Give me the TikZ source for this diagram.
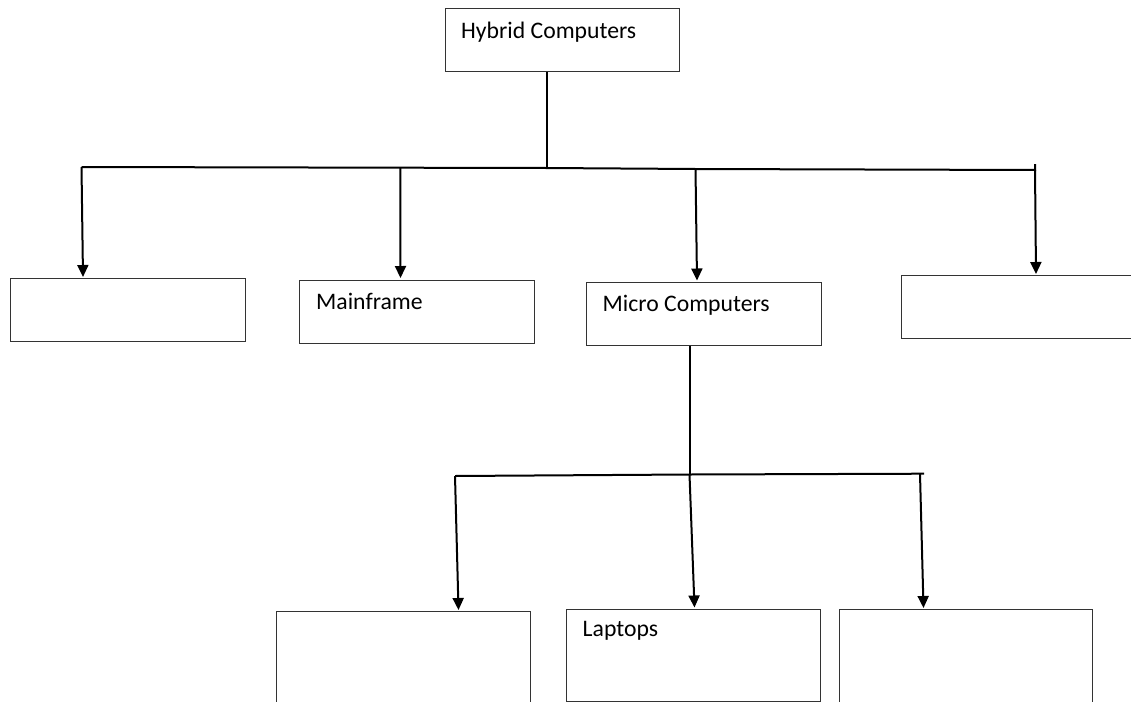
\documentclass[tikz,border=0pt]{standalone}
\usepackage{fontspec}
\setmainfont{Carlito}
\usetikzlibrary{arrows.meta,calc}
\begin{document}
\begin{tikzpicture}[x=1pt,y=-1pt,
  box/.style={draw=black!80,line width=1.2pt,rectangle,inner sep=0pt,anchor=north west},
  lbl/.style={anchor=base west,inner sep=0pt,font=\fontsize{23.7}{28}\selectfont},
  wire/.style={draw=black,line width=2pt},
  arr/.style={draw=black,line width=2pt,-{Triangle[length=12pt,width=11pt]}}]
\useasboundingbox (0,0) rectangle (1131,701);
\fill[white] (0,0) rectangle (1131,701);
% boxes
\node[box,minimum width=234pt,minimum height=63pt] (hyb) at (445,8) {};
\node[lbl] (hybt) at (461,38.5) {Hybrid Computers};
\node[box,minimum width=235pt,minimum height=63pt] (b1) at (10,278) {};
\node[box,minimum width=235pt,minimum height=63pt] (mf) at (299,279.5) {};
\node[lbl] (mft) at (316,309.5) {Mainframe};
\node[box,minimum width=235pt,minimum height=63pt] (mc) at (585.5,281.5) {};
\node[lbl] (mct) at (602.5,311.5) {Micro Computers};
\node[box,minimum width=240pt,minimum height=63pt] (b4) at (901,275) {};
\node[box,minimum width=254pt,minimum height=100pt] (b5) at (275.5,611) {};
\node[box,minimum width=254pt,minimum height=92pt] (lap) at (566,608.5) {};
\node[lbl] (lapt) at (582.5,636.5) {Laptops};
\node[box,minimum width=253pt,minimum height=100pt] (b7) at (838.5,609) {};
% top level tree
\coordinate (j0) at (546.5,168);
\coordinate (l1) at (81.5,167);
\coordinate (l2) at (400.3,167.7);
\coordinate (l3) at (695.5,169);
\coordinate (l4) at (1035,170);
\coordinate (l4t) at (1035,164);
\draw[wire] (hyb.south -| j0) -- (j0);
\draw[wire] (l1) -- (l2) -- (j0) -- (l3) -- (l4) -- (l4t);
\draw[arr] (l1) -- (83,277);
\draw[arr] (l2) -- (400.5,278);
\draw[arr] (l3) -- (697,280.5);
\draw[arr] (l4) -- (1036,274);
% second level tree
\coordinate (k0) at (689.5,474.5);
\coordinate (m1) at (455,476);
\coordinate (m3) at (924,473.7);
\coordinate (m3d) at (920,474);
\draw[wire] (mc.south -| k0) -- (k0);
\draw[wire] (m1) -- (k0) -- (m3);
\draw[arr] (m1) -- (458.5,610);
\draw[arr] (k0) -- (694.5,607.5);
\draw[arr] (m3d) -- (923.5,608);
\end{tikzpicture}
\end{document}
